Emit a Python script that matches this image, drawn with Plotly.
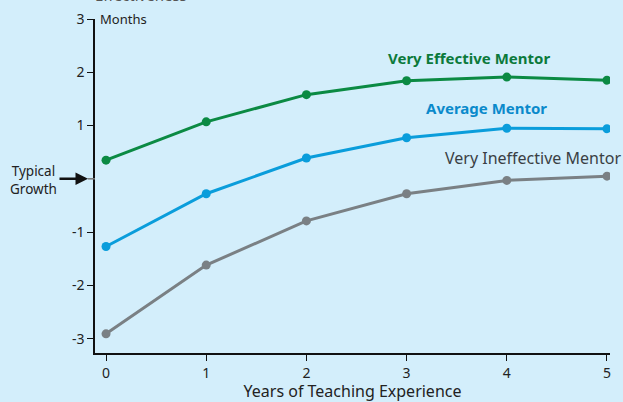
import plotly.graph_objects as go

years = [0, 1, 2, 3, 4, 5]
very_effective = [0.35, 1.07, 1.58, 1.84, 1.91, 1.85]
average = [-1.27, -0.28, 0.39, 0.77, 0.95, 0.94]
very_ineffective = [-2.91, -1.62, -0.79, -0.28, -0.03, 0.05]
series_names = ["Very Effective Mentor", "Average Mentor", "Very Ineffective Mentor"]
y_ticks = [3, 2, 1, -1, -2, -3]
x_ticks = [0, 1, 2, 3, 4, 5]

BG = "#D3EEFB"
FONT = "Noto Sans"
colors = ["#0B8A43", "#0A9DDB", "#7A8084"]
label_colors = ["#0B7A3B", "#0A8ACB", "#3A3F44"]

fig = go.Figure()
for name, vals, c in zip(series_names, [very_effective, average, very_ineffective], colors):
    fig.add_trace(go.Scatter(x=years, y=vals, mode="lines+markers", name=name,
                             line=dict(color=c, width=3),
                             marker=dict(color=c, size=9), showlegend=False))

fig.update_layout(
    width=623, height=402,
    margin=dict(l=95, r=13, t=19, b=49, autoexpand=False),
    paper_bgcolor=BG, plot_bgcolor=BG,
    font=dict(family=FONT, color="#222222", size=13),
    xaxis=dict(range=[-0.11, 5.03], tickvals=x_ticks, ticks="outside", ticklen=6,
               tickcolor="#111111", showline=True, linecolor="#111111", linewidth=1.5,
               showgrid=False, zeroline=False, automargin=False, tickfont=dict(size=14),
               title=dict(text="Years of Teaching Experience", font=dict(size=16, color="#222222"), standoff=6)),
    yaxis=dict(range=[-3.27, 3.0], tickvals=y_ticks, ticktext=[str(v) for v in y_ticks],
               ticks="outside", ticklen=6, tickcolor="#111111", showline=True, automargin=False,
               linecolor="#111111", linewidth=1.5, showgrid=False, zeroline=False, tickfont=dict(size=14)),
)

annotations = [
    dict(x=3.62, y=2.27, text="<b>Very Effective Mentor</b>", font=dict(color=label_colors[0], size=15)),
    dict(x=3.80, y=1.33, text="<b>Average Mentor</b>", font=dict(color=label_colors[1], size=15)),
    dict(x=5.0, y=0.40, xshift=16, text="Very Ineffective Mentor", xanchor="right",
         font=dict(color=label_colors[2], size=16)),
]
for a in annotations:
    fig.add_annotation(xref="x", yref="y", showarrow=False, **a)

fig.add_annotation(xref="paper", yref="y", x=0, y=3.0, text="Months", showarrow=False,
                   xanchor="left", xshift=3, font=dict(size=13, color="#222222"))
fig.add_annotation(xref="paper", yref="paper", x=0, y=1, yshift=12, text="Effectiveness",
                   showarrow=False, xanchor="left", yanchor="bottom", xshift=-2,
                   font=dict(size=15, color="#555555"))
fig.add_annotation(xref="paper", yref="y", x=0, y=0, text="Typical<br>Growth", showarrow=False,
                   xanchor="right", xshift=-36, yshift=-1, align="center", font=dict(size=13.5, color="#222222"))
fig.add_annotation(xref="paper", yref="y", x=0, y=0, ax=-30, ay=0, xshift=-7,
                   showarrow=True, arrowhead=2, arrowsize=1, arrowwidth=2.5, arrowcolor="#111111", text="")
fig.add_shape(type="line", xref="paper", yref="y", x0=-0.014, x1=0, y0=0, y1=0,
              line=dict(color="#777777", width=1.5))

fig.write_html("out.html", config={"displayModeBar": False},
               post_script="document.body.style.margin='0';document.body.style.overflow='hidden';")
